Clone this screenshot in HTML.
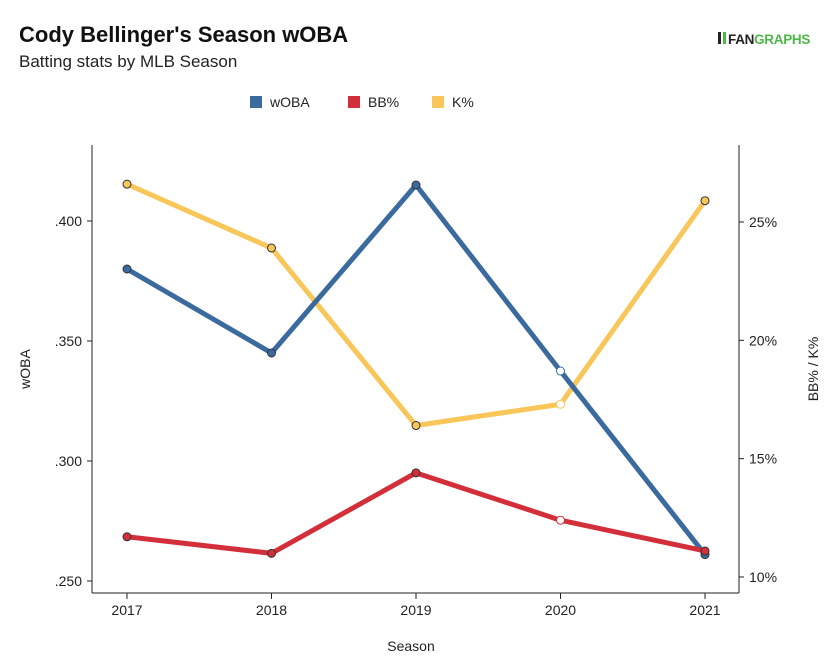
<!DOCTYPE html>
<html><head><meta charset="utf-8"><style>
body{margin:0;background:#fff;font-family:"Liberation Sans",sans-serif;}
</style></head><body>
<svg width="838" height="667" xmlns="http://www.w3.org/2000/svg" style="display:block">
<text x="19" y="42" font-size="22" font-weight="bold" fill="#111">Cody Bellinger's Season wOBA</text>
<text x="19" y="67" font-size="17" fill="#222">Batting stats by MLB Season</text>
<g>
<rect x="718" y="32" width="3" height="12" fill="#222"/><rect x="723" y="32" width="3" height="12" fill="#4cb848"/>
<text x="728" y="44" font-size="13.5" font-weight="bold" fill="#222" letter-spacing="-0.3">FAN<tspan fill="#4cb848">GRAPHS</tspan></text>
</g>
<g id="legend">
<rect x="250" y="96" width="12" height="12" fill="#3a6a9e"/>
<text x="270" y="107" font-size="14" fill="#222">wOBA</text>
<rect x="348" y="96" width="12" height="12" fill="#d32f3a"/>
<text x="368" y="107" font-size="14" fill="#222">BB%</text>
<rect x="432" y="96" width="12" height="12" fill="#f8c659"/>
<text x="452" y="107" font-size="14" fill="#222">K%</text>
</g>
<g id="axes"></g>
<g id="marks"></g>
<text x="411" y="651" font-size="14" fill="#222" text-anchor="middle">Season</text>
<text transform="translate(30,369) rotate(-90)" font-size="14" fill="#222" text-anchor="middle">wOBA</text>
<text transform="translate(818,369) rotate(-90)" font-size="14" fill="#222" text-anchor="middle">BB% / K%</text>
</svg>
<script>
const seasons=[2017,2018,2019,2020,2021];
const woba=[0.380,0.345,0.415,0.3375,0.261];
const bbPct=[11.7,11.0,14.4,12.4,11.1];
const kPct=[26.6,23.9,16.4,17.3,25.9];
const leftTicks=[0.250,0.300,0.350,0.400];
const leftTickLabels=[".250",".300",".350",".400"];
const rightTicks=[10,15,20,25];
const rightTickLabels=["10%","15%","20%","25%"];
const hollow=[false,false,false,true,false];
const NS="http://www.w3.org/2000/svg";
const L=92,R=739,T=145,B=593;
const x=i=>127+i*(705-127)/(seasons.length-1);
const yL=v=>581-(v-0.25)*2400;
const yR=v=>577-(v-10)*(577-222)/15;
function mk(tag,at,parent){const e=document.createElementNS(NS,tag);for(const k in at)e.setAttribute(k,at[k]);parent.appendChild(e);return e;}
const ax=document.getElementById('axes'),mg=document.getElementById('marks');
let e;
e=mk('line',{x1:L,y1:T,x2:L,y2:B,stroke:'#222','stroke-width':1},ax);


e=mk('line',{x1:R,y1:T,x2:R,y2:B,stroke:'#222','stroke-width':1},ax);


e=mk('line',{x1:L,y1:B,x2:R,y2:B,stroke:'#222','stroke-width':1},ax);


leftTicks.forEach((v,i)=>{const y=yL(v);
mk('line',{x1:L-5,y1:y,x2:L,y2:y,stroke:'#222'},ax);
e=mk('text',{x:L-10,y:y+5,'font-size':14,fill:'#222','text-anchor':'end'},ax);e.textContent=leftTickLabels[i];

});
rightTicks.forEach((v,i)=>{const y=yR(v);
mk('line',{x1:R,y1:y,x2:R+5,y2:y,stroke:'#222'},ax);
e=mk('text',{x:R+10,y:y+5,'font-size':14,fill:'#222'},ax);e.textContent=rightTickLabels[i];

});
seasons.forEach((s,i)=>{const xx=x(i);
mk('line',{x1:xx,y1:B,x2:xx,y2:B+6,stroke:'#222'},ax);
e=mk('text',{x:xx,y:B+22,'font-size':14,fill:'#222','text-anchor':'middle'},ax);e.textContent=s;

});
function series(vals,yf,color,name){
const pts=vals.map((v,i)=>x(i)+','+yf(v)).join(' ');
e=mk('polyline',{points:pts,fill:'none',stroke:color,'stroke-width':5,'stroke-linejoin':'round'},mg);


vals.forEach((v,i)=>{e=mk('circle',{cx:x(i),cy:yf(v),r:4,fill:hollow[i]?'#fff':color,stroke:hollow[i]?color:'#333','stroke-width':1},mg);

});}
series(kPct,yR,'#f8c659','k-pct');
series(woba,yL,'#3a6a9e','woba');
series(bbPct,yR,'#d32f3a','bb-pct');
</script>
</body></html>
